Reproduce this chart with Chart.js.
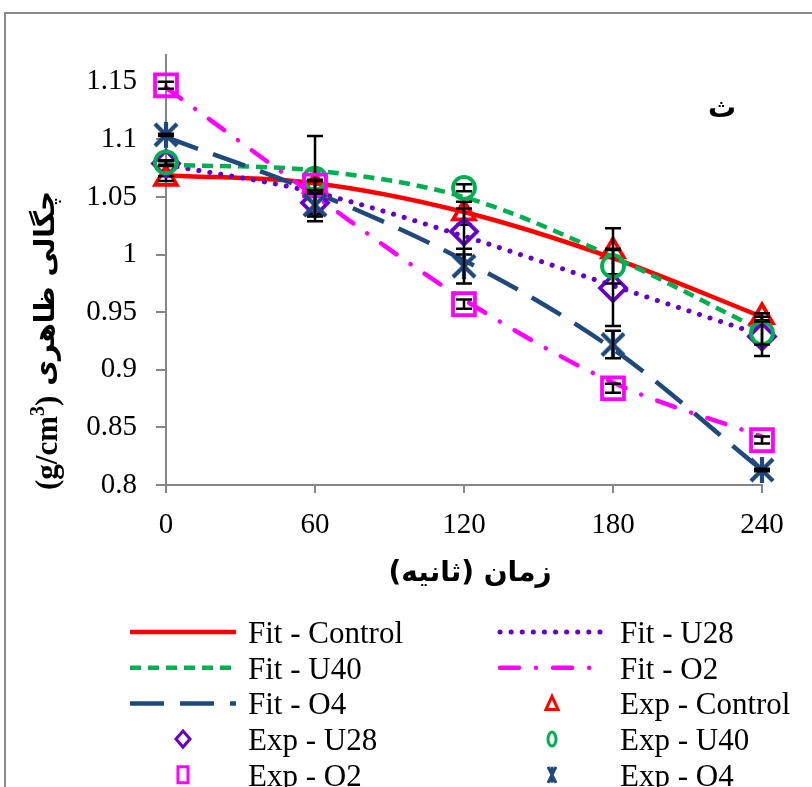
<!DOCTYPE html>
<html>
<head>
<meta charset="utf-8">
<script src="https://cdn.jsdelivr.net/npm/chart.js"></script>
<style>
  html, body { margin: 0; padding: 0; background: #fff; }
  #wrap { width: 812px; height: 787px; }
</style>
</head>
<body>
<div id="wrap"><canvas id="density-chart" width="812" height="787"></canvas></div>
<script>
// time (s) and tick values
const times = [0, 60, 120, 180, 240];
const yTickValues = [0.8, 0.85, 0.9, 0.95, 1, 1.05, 1.1, 1.15];

// fitted curves
const fitControl = [1.069, 1.062, 1.037, 0.997, 0.946];
const fitU28 = [1.078, 1.054, 1.016, 0.973, 0.930];
const fitU40 = [1.078, 1.073, 1.050, 0.998, 0.934];
const fitO2 = [1.145, 1.051, 0.961, 0.889, 0.842];
const fitO4 = [1.102, 1.054, 0.995, 0.918, 0.813];

// experimental points
const expControl = [1.066, 1.060, 1.036, 1.003, 0.946];
const expU28 = [1.079, 1.045, 1.020, 0.971, 0.929];
const expU40 = [1.080, 1.066, 1.058, 0.990, 0.932];
const expO2 = [1.147, 1.060, 0.957, 0.884, 0.839];
const expO4 = [1.104, 1.043, 0.990, 0.922, 0.813];

// error bars (+/-)
const errControl = [0.002, 0.005, 0.010, 0.020, 0.003];
const errU28 = [0.002, 0.010, 0.020, 0.033, 0.017];
const errU40 = [0.002, 0.037, 0.003, 0.015, 0.010];
const errO2 = [0.003, 0.004, 0.004, 0.004, 0.003];
const errO4 = [0.001, 0.010, 0.015, 0.012, 0.001];

const RED = '#FF0000';
const GREEN = '#00B050';
const NAVY = '#1F497D';
const PURPLE = '#6600CC';
const MAGENTA = '#FF00FF';
const AXIS_GRAY = '#868686';
const SERIF = "'Liberation Serif', 'Times New Roman', serif";
const ARABIC = "'DejaVu Sans', sans-serif";

const toPoints = vals => vals.map((v, i) => ({ x: times[i], y: v }));

// asterisk marker used by the O4 points
function asteriskImage(size, lw, color) {
    const c = document.createElement('canvas');
    c.width = size;
    c.height = size;
    const g = c.getContext('2d');
    g.strokeStyle = color;
    g.lineWidth = lw;
    const m = size / 2;
    const r = size / 2 - 2;
    g.beginPath();
    g.moveTo(m - r * 0.85, m - r * 0.85); g.lineTo(m + r * 0.85, m + r * 0.85);
    g.moveTo(m + r * 0.85, m - r * 0.85); g.lineTo(m - r * 0.85, m + r * 0.85);
    g.moveTo(m, m - r); g.lineTo(m, m + r);
    g.stroke();
    return c;
}

function fitSet(label, vals, color, dash, width, order, cap) {
    return {
        label, data: toPoints(vals), borderColor: color, borderWidth: width,
        borderDash: dash, borderCapStyle: cap || 'butt', cubicInterpolationMode: 'monotone',
        pointRadius: 0, fill: false, order, clip: false, legendKind: 'line'
    };
}

function expSet(label, vals, errs, color, style, radius, order) {
    return {
        label, data: toPoints(vals), showLine: false, borderColor: color,
        pointStyle: style, pointRadius: radius, pointBorderWidth: 3.8,
        pointBorderColor: color, pointBackgroundColor: 'rgba(0,0,0,0)',
        pointHoverRadius: radius, order, clip: false, errors: errs, legendKind: 'marker'
    };
}

const datasets = [
    fitSet('Fit - Control', fitControl, RED, [], 4.5, 20),
    fitSet('Fit - U28', fitU28, PURPLE, [0.1, 11], 5, 19, 'round'),
    fitSet('Fit - U40', fitU40, GREEN, [11, 7], 4.5, 18),
    fitSet('Fit - O2', fitO2, MAGENTA, [19, 17, 0.1, 17], 4.5, 17, 'round'),
    fitSet('Fit - O4', fitO4, NAVY, [34, 16], 4.5, 16),
    expSet('Exp - Control', expControl, errControl, RED, 'triangle', 12.5, 15),
    expSet('Exp - U28', expU28, errU28, PURPLE, 'rectRot', 13, 14),
    expSet('Exp - U40', expU40, errU40, GREEN, 'circle', 11, 13),
    expSet('Exp - O2', expO2, errO2, MAGENTA, 'rect', 15.5, 12),
    expSet('Exp - O4', expO4, errO4, NAVY, asteriskImage(30, 4.2, NAVY), 15, 11)
];

// small legend markers (drawn narrower than tall, like the original)
function legendMarker(ctx, ds, x, y) {
    const c = ds.borderColor;
    ctx.save();
    ctx.strokeStyle = c;
    ctx.lineWidth = 3;
    ctx.setLineDash([]);
    ctx.beginPath();
    if (ds.pointStyle === 'triangle') {
        ctx.moveTo(x, y - 7); ctx.lineTo(x + 6, y + 6); ctx.lineTo(x - 6, y + 6); ctx.closePath();
    } else if (ds.pointStyle === 'rectRot') {
        ctx.moveTo(x, y - 8); ctx.lineTo(x + 7, y); ctx.lineTo(x, y + 8); ctx.lineTo(x - 7, y); ctx.closePath();
    } else if (ds.pointStyle === 'circle') {
        ctx.ellipse(x, y, 4, 7, 0, 0, Math.PI * 2);
    } else if (ds.pointStyle === 'rect') {
        ctx.rect(x - 5, y - 8, 10, 16);
    } else {
        ctx.moveTo(x - 4, y - 8); ctx.lineTo(x + 4, y + 8);
        ctx.moveTo(x + 4, y - 8); ctx.lineTo(x - 4, y + 8);
        ctx.moveTo(x, y - 8); ctx.lineTo(x, y + 8);
    }
    ctx.stroke();
    ctx.restore();
}

const decor = {
    id: 'decor',
    beforeDraw(chart) {
        const ctx = chart.ctx;
        ctx.save();
        ctx.fillStyle = '#fff';
        ctx.fillRect(0, 0, chart.width, chart.height);
        // outer frame
        ctx.strokeStyle = '#8a8a8a';
        ctx.lineWidth = 2;
        ctx.beginPath();
        ctx.moveTo(5, chart.height + 5);
        ctx.lineTo(5, 13);
        ctx.lineTo(chart.width + 5, 13);
        ctx.stroke();
        ctx.restore();
    },
    afterDatasetDraw(chart, args) {
        const ds = chart.data.datasets[args.index];
        if (!ds.errors) return;
        const ctx = chart.ctx;
        const xs = chart.scales.x, ys = chart.scales.y;
        ctx.save();
        ctx.strokeStyle = '#000';
        ctx.lineWidth = 2.5;
        ctx.setLineDash([]);
        ds.data.forEach((p, i) => {
            const e = ds.errors[i];
            if (!e) return;
            const px = xs.getPixelForValue(p.x);
            const top = ys.getPixelForValue(p.y + e);
            const bot = ys.getPixelForValue(p.y - e);
            ctx.beginPath();
            ctx.moveTo(px, top); ctx.lineTo(px, bot);
            ctx.moveTo(px - 8, top); ctx.lineTo(px + 8, top);
            ctx.moveTo(px - 8, bot); ctx.lineTo(px + 8, bot);
            ctx.stroke();
        });
        ctx.restore();
    },
    afterDraw(chart) {
        const ctx = chart.ctx;
        ctx.save();
        ctx.fillStyle = '#000';

        // x axis title
        ctx.font = `bold 28px ${ARABIC}`;
        ctx.direction = 'rtl';
        ctx.textAlign = 'center';
        ctx.textBaseline = 'middle';
        ctx.fillText('زمان (ثانیه)', 470, 574);

        // panel letter
        ctx.font = `bold 28px ${ARABIC}`;
        ctx.fillText('ث', 722, 110);

        // y axis title, rotated
        ctx.save();
        ctx.translate(47, 490);
        ctx.rotate(-Math.PI / 2);
        ctx.direction = 'ltr';
        ctx.textAlign = 'left';
        ctx.textBaseline = 'middle';
        let x = 0;
        ctx.font = `bold 31px ${SERIF}`;
        ctx.fillText('(g/cm', x, 2);
        x += ctx.measureText('(g/cm').width;
        ctx.font = `bold 20px ${SERIF}`;
        ctx.fillText('3', x, -8);
        x += ctx.measureText('3').width;
        ctx.font = `bold 31px ${SERIF}`;
        ctx.fillText(')', x, 2);
        x += ctx.measureText(')').width + 10;
        ctx.font = `bold 28px ${ARABIC}`;
        ctx.direction = 'rtl';
        ctx.textAlign = 'left';
        ctx.fillText('چگالی ظاهری', x, 0);
        ctx.restore();

        // legend: two columns
        ctx.direction = 'ltr';
        ctx.textAlign = 'left';
        ctx.textBaseline = 'alphabetic';
        ctx.font = `31px ${SERIF}`;
        const cols = [{ x0: 130, x1: 236, tx: 248 }, { x0: 500, x1: 604, tx: 620 }];
        chart.data.datasets.forEach((ds, i) => {
            const col = cols[i % 2];
            const base = 643 + Math.floor(i / 2) * 35.7;
            const my = base - 11;
            if (ds.legendKind === 'line') {
                ctx.save();
                ctx.strokeStyle = ds.borderColor;
                ctx.lineWidth = ds.borderWidth;
                ctx.lineCap = ds.borderCapStyle;
                ctx.setLineDash(ds.borderDash);
                ctx.beginPath();
                ctx.moveTo(col.x0, my);
                ctx.lineTo(col.x1, my);
                ctx.stroke();
                ctx.restore();
            } else {
                legendMarker(ctx, ds, (col.x0 + col.x1) / 2, my);
            }
            ctx.fillStyle = '#000';
            ctx.fillText(ds.label, col.tx, base);
        });
        ctx.restore();
    }
};

new Chart(document.getElementById('density-chart'), {
    type: 'line',
    data: { datasets },
    options: {
        responsive: false,
        animation: false,
        devicePixelRatio: 1,
        layout: { padding: { top: 55, right: 50, left: 0, bottom: 0 } },
        plugins: { legend: { display: false }, tooltip: { enabled: false } },
        scales: {
            x: {
                type: 'linear', min: 0, max: 240,
                ticks: { stepSize: 60, color: '#000', font: { family: SERIF, size: 29 }, padding: 15, maxRotation: 0 },
                grid: { drawOnChartArea: false, drawTicks: true, tickLength: 8, color: AXIS_GRAY, lineWidth: 2 },
                border: { display: true, color: AXIS_GRAY, width: 2 },
                afterFit(scale) { scale.height = 302; }
            },
            y: {
                type: 'linear', min: 0.8, max: 1.1733,
                afterBuildTicks(scale) { scale.ticks = yTickValues.map(v => ({ value: v })); },
                ticks: {
                    color: '#000', font: { family: SERIF, size: 29 }, padding: 19,
                    callback: v => String(Math.round(v * 100) / 100)
                },
                grid: { drawOnChartArea: false, drawTicks: true, tickLength: 10, color: AXIS_GRAY, lineWidth: 2 },
                border: { display: true, color: AXIS_GRAY, width: 2 },
                afterFit(scale) { scale.width = 166; }
            }
        }
    },
    plugins: [decor]
});
</script>
</body>
</html>
